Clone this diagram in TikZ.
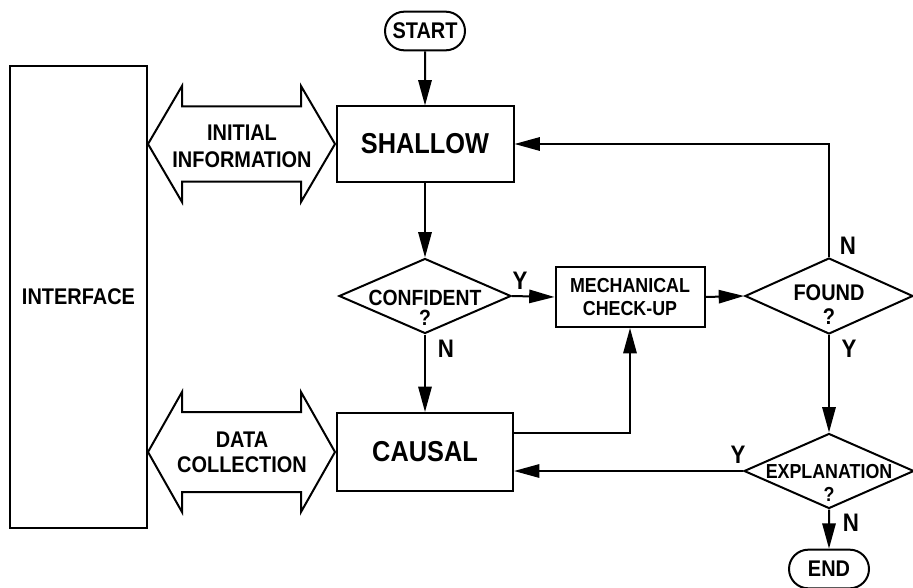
\documentclass[tikz,border=0pt]{standalone}
\usepackage{fontspec}
\setmainfont{Liberation Sans}[BoldFeatures={FakeStretch=0.88}]
\usetikzlibrary{arrows.meta,shapes.geometric,shapes.misc,calc}

\tikzset{every picture/.style={line width=1.5pt}}
\tikzset{
  block/.style={draw, rectangle, inner sep=0pt, align=center},
  ask/.style={draw, diamond, inner sep=0pt},
  term/.style={draw, rounded rectangle, inner sep=0pt, minimum width=60pt, minimum height=29pt, font=\fontsize{17}{19}\bfseries},
  note/.style={inner sep=0pt, align=center},
  tag/.style={inner sep=0pt, font=\fontsize{19}{20}\bfseries},
  flow/.style={-{Triangle[length=19pt,width=10pt]}},
}

\begin{document}
\begin{tikzpicture}[x=0.75pt,y=0.75pt,yscale=-1,xscale=1]
\useasboundingbox (0,0) rectangle (913,588);

%Shape: Interface box
\node[block, minimum width=102.75pt, minimum height=346.5pt, font=\fontsize{17}{19}\bfseries] (iface) at (78.5,297) {INTERFACE};

%Shape: Terminals
\node[term] (start) at (425,31) {START};
\node[term] (stop) at (829,569) {END};

%Shape: Boxes
\node[block, minimum width=132.75pt, minimum height=56.25pt, font=\fontsize{21.6}{23}\bfseries] (shallow) at (425,144) {SHALLOW};
\node[block, minimum width=132pt, minimum height=58.5pt, font=\fontsize{21.6}{23}\bfseries] (causal) at (425,452) {CAUSAL};
\node[block, minimum width=111.75pt, minimum height=45pt, font=\fontsize{15.2}{17}\bfseries] (mech) at (630,297) {MECHANICAL\\CHECK-UP};

%Shape: Diamonds
\node[ask, minimum width=129pt, minimum height=56.25pt] (conf) at (425,296) {};
\node[ask, minimum width=126pt, minimum height=57pt] (found) at (829,296) {};
\node[ask, minimum width=127.5pt, minimum height=56.25pt] (expl) at (829,471) {};

% Text Node
\node[note, font=\fontsize{16.5}{15}\bfseries] (conftxt) at (425,308) {CONFIDENT\\?};
% Text Node
\node[note, font=\fontsize{17}{18}\bfseries] (foundtxt) at (829,305) {FOUND\\?};
% Text Node
\node[note, font=\fontsize{15.2}{17}\bfseries] (expltxt) at (829,483) {EXPLANATION\\?};

%Shape: Double arrows
\draw (shallow.west -| iface.east) coordinate (ia) -- ++(34,-58) -- ++(0,20.5) -- ++(119,0) -- ++(0,-20.5) -- ++(34,58) -- ++(-34,58) -- ++(0,-20.5) -- ++(-119,0) -- ++(0,20.5) -- cycle ;
\draw (causal.west -| iface.east) coordinate (da) -- ++(34,-60) -- ++(0,20) -- ++(119,0) -- ++(0,-20) -- ++(34,60) -- ++(-34,60) -- ++(0,-20) -- ++(-119,0) -- ++(0,20) -- cycle ;
% Text Node
\node[note, font=\fontsize{17}{20}\bfseries] (initinfo) at (242,146) {INITIAL\\INFORMATION};
% Text Node
\node[note, font=\fontsize{17}{19}\bfseries] (datacoll) at (242,452) {DATA\\COLLECTION};

%Connectors
\draw[flow] (start) -- (shallow);
\draw[flow] (shallow) -- (conf);
\draw[flow] (conf) -- (causal);
\draw[flow] (conf.east) -- (mech.west);
\draw[flow] (mech.east) -- (found.west);
\draw[flow] (found.north) |- (shallow.east);
\draw[flow] (found) -- (expl);
\draw[flow] (expl.west) -- (expl.west -| causal.east);
\draw[flow] ($(causal.east)+(0,-19)$) -| (mech.south);
\draw[flow] (expl) -- (stop);

% Text Node
\node[tag] (cy) at (520,281) {Y};
% Text Node
\node[tag] (cn) at (446,349) {N};
% Text Node
\node[tag] (fn) at (848,246) {N};
% Text Node
\node[tag] (fy) at (849,349) {Y};
% Text Node
\node[tag] (ey) at (738,455) {Y};
% Text Node
\node[tag] (en) at (851,523) {N};

\end{tikzpicture}
\end{document}
